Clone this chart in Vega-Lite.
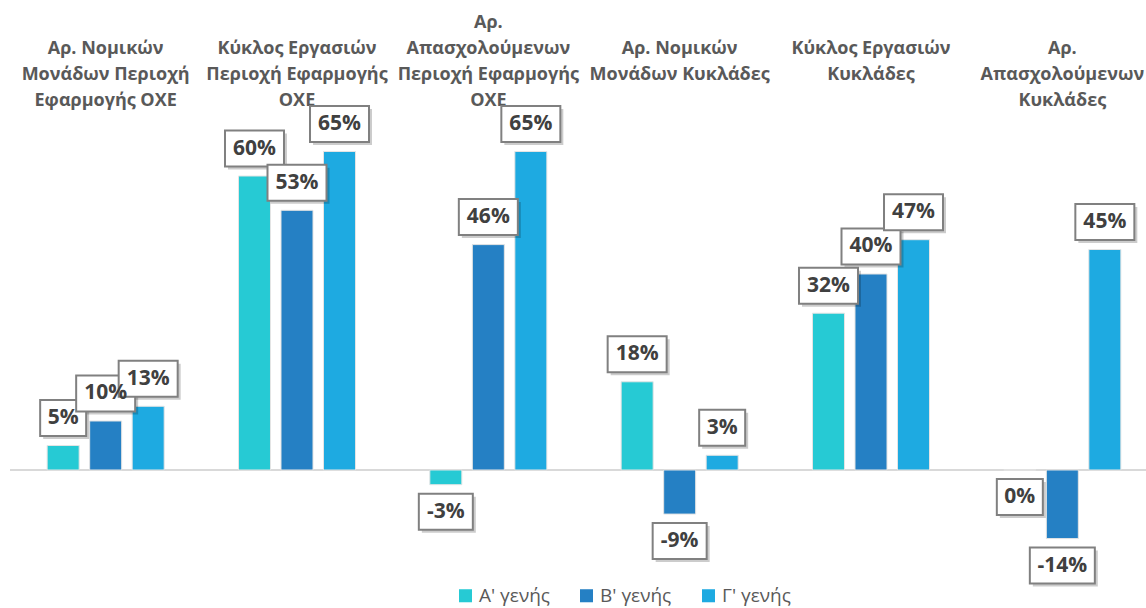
{
  "$schema": "https://vega.github.io/schema/vega-lite/v6.json",
  "width": 1136,
  "height": 445,
  "autosize": {"type": "none"},
  "padding": {"left": 10, "top": 115, "right": 0, "bottom": 48},
  "background": "white",
  "config": {"view": {"stroke": null}, "font": "Open Sans"},
  "datasets": {
    "d": [
      {"cat": "Αρ. Νομικών|Μονάδων Περιοχή|Εφαρμογής ΟΧΕ", "g": "Α' γενής", "v": 5},
      {"cat": "Αρ. Νομικών|Μονάδων Περιοχή|Εφαρμογής ΟΧΕ", "g": "Β' γενής", "v": 10},
      {"cat": "Αρ. Νομικών|Μονάδων Περιοχή|Εφαρμογής ΟΧΕ", "g": "Γ' γενής", "v": 13},
      {"cat": "Κύκλος Εργασιών|Περιοχή Εφαρμογής|ΟΧΕ", "g": "Α' γενής", "v": 60},
      {"cat": "Κύκλος Εργασιών|Περιοχή Εφαρμογής|ΟΧΕ", "g": "Β' γενής", "v": 53},
      {"cat": "Κύκλος Εργασιών|Περιοχή Εφαρμογής|ΟΧΕ", "g": "Γ' γενής", "v": 65},
      {"cat": "Αρ.|Απασχολούμενων|Περιοχή Εφαρμογής|ΟΧΕ", "g": "Α' γενής", "v": -3},
      {"cat": "Αρ.|Απασχολούμενων|Περιοχή Εφαρμογής|ΟΧΕ", "g": "Β' γενής", "v": 46},
      {"cat": "Αρ.|Απασχολούμενων|Περιοχή Εφαρμογής|ΟΧΕ", "g": "Γ' γενής", "v": 65},
      {"cat": "Αρ. Νομικών|Μονάδων Κυκλάδες", "g": "Α' γενής", "v": 18},
      {"cat": "Αρ. Νομικών|Μονάδων Κυκλάδες", "g": "Β' γενής", "v": -9},
      {"cat": "Αρ. Νομικών|Μονάδων Κυκλάδες", "g": "Γ' γενής", "v": 3},
      {"cat": "Κύκλος Εργασιών|Κυκλάδες", "g": "Α' γενής", "v": 32},
      {"cat": "Κύκλος Εργασιών|Κυκλάδες", "g": "Β' γενής", "v": 40},
      {"cat": "Κύκλος Εργασιών|Κυκλάδες", "g": "Γ' γενής", "v": 47},
      {"cat": "Αρ.|Απασχολούμενων|Κυκλάδες", "g": "Α' γενής", "v": 0},
      {"cat": "Αρ.|Απασχολούμενων|Κυκλάδες", "g": "Β' γενής", "v": -14},
      {"cat": "Αρ.|Απασχολούμενων|Κυκλάδες", "g": "Γ' γενής", "v": 45}
    ]
  },
  "layer": [
    {
      "data": {"values": [{"z": 0}]},
      "mark": {"type": "rule", "color": "#d9d9d9", "strokeWidth": 2},
      "encoding": {
        "y": {"field": "z", "type": "quantitative", "scale": {"domain": [-18.37, 72.45], "nice": false, "zero": false}, "axis": null}
      }
    },
    {
      "data": {"name": "d"},
      "mark": {"type": "bar", "stroke": "#e4e4e4", "strokeWidth": 1},
      "encoding": {
        "x": {
          "field": "cat", "type": "nominal", "sort": null,
          "scale": {"paddingInner": 0, "paddingOuter": 0, "range": [0, 1148]},
          "axis": {
            "orient": "top", "title": null, "domain": false, "ticks": false, "grid": false,
            "labelAngle": 0,
            "labelExpr": "split(slice('|||', 0, 4 - length(split(datum.label, '|'))) + datum.label, '|')",
            "labelFont": "Open Sans", "labelFontSize": 18, "labelFontWeight": "bold",
            "labelColor": "#595959", "labelLineHeight": 26.3, "labelBaseline": "alphabetic",
            "labelPadding": 88, "labelLimit": 0
          }
        },
        "xOffset": {"field": "g", "type": "nominal", "scale": {"paddingInner": 0.247, "paddingOuter": 0.874}},
        "y": {"field": "v", "type": "quantitative", "axis": null},
        "color": {
          "field": "g", "type": "nominal",
          "scale": {"domain": ["Α' γενής", "Β' γενής", "Γ' γενής"], "range": ["#26CAD4", "#2580C4", "#1EAAE1"]},
          "legend": {
            "title": null, "orient": "none", "legendX": 446, "legendY": 471, "direction": "horizontal",
            "symbolType": "square", "symbolSize": 170, "symbolStrokeWidth": 0,
            "labelFont": "Open Sans", "labelFontSize": 19, "labelColor": "#595959", "labelOffset": 4, "columnPadding": 27
          }
        }
      }
    },
    {
      "data": {"name": "d"},
      "transform": [{"calculate": "datum.v + '%'", "as": "label"}, {"filter": "datum.v > 0"}],
      "mark": {"type": "point", "filled": true, "fill": "#000000", "opacity": 0.2, "strokeWidth": 0},
      "encoding": {
        "x": {"field": "cat", "type": "nominal", "sort": null},
        "xOffset": {"field": "g", "type": "nominal"},
        "y": {"field": "v", "type": "quantitative", "axis": null},
        "yOffset": {"value": -27.5},
        "shape": {"condition": [{"test": "length(datum.label) <= 2", "value": "M-0.870,-0.653H1.130V0.913H-0.870Z"}, {"test": "length(datum.label) >= 4", "value": "M-0.908,-0.462H1.092V0.646H-0.908Z"}, {"test": "datum.v < 0", "value": "M-0.889,-0.556H1.111V0.778H-0.889Z"}], "value": "M-0.898,-0.508H1.102V0.712H-0.898Z"},
        "size": {"condition": [{"test": "length(datum.label) <= 2", "value": 2116}, {"test": "length(datum.label) >= 4", "value": 4225}, {"test": "datum.v < 0", "value": 2916}], "value": 3481}
      }
    },
    {
      "data": {"name": "d"},
      "transform": [{"calculate": "datum.v + '%'", "as": "label"}, {"filter": "datum.v > 0"}],
      "mark": {"type": "point", "filled": true, "fill": "#ffffff", "stroke": "#808080", "strokeWidth": 2, "opacity": 1},
      "encoding": {
        "x": {"field": "cat", "type": "nominal", "sort": null},
        "xOffset": {"field": "g", "type": "nominal"},
        "y": {"field": "v", "type": "quantitative", "axis": null},
        "yOffset": {"value": -27.5},
        "shape": {"condition": [{"test": "length(datum.label) <= 2", "value": "M-1,-0.783H1V0.783H-1Z"}, {"test": "length(datum.label) >= 4", "value": "M-1,-0.554H1V0.554H-1Z"}, {"test": "datum.v < 0", "value": "M-1,-0.667H1V0.667H-1Z"}], "value": "M-1,-0.610H1V0.610H-1Z"},
        "size": {"condition": [{"test": "length(datum.label) <= 2", "value": 2116}, {"test": "length(datum.label) >= 4", "value": 4225}, {"test": "datum.v < 0", "value": 2916}], "value": 3481}
      }
    },
    {
      "data": {"name": "d"},
      "transform": [{"calculate": "datum.v + '%'", "as": "label"}, {"filter": "datum.v > 0"}],
      "mark": {"type": "text", "font": "Open Sans", "fontSize": 21, "fontWeight": "bold", "color": "#404040", "baseline": "middle", "align": "center"},
      "encoding": {
        "x": {"field": "cat", "type": "nominal", "sort": null},
        "xOffset": {"field": "g", "type": "nominal"},
        "y": {"field": "v", "type": "quantitative", "axis": null},
        "yOffset": {"value": -27.5},
        "text": {"field": "label"}
      }
    },
    {
      "data": {"name": "d"},
      "transform": [{"calculate": "datum.v + '%'", "as": "label"}, {"filter": "datum.v <= 0"}],
      "mark": {"type": "point", "filled": true, "fill": "#000000", "opacity": 0.2, "strokeWidth": 0},
      "encoding": {
        "x": {"field": "cat", "type": "nominal", "sort": null},
        "xOffset": {"field": "g", "type": "nominal"},
        "y": {"field": "v", "type": "quantitative", "axis": null},
        "yOffset": {"value": 27},
        "shape": {"condition": [{"test": "length(datum.label) <= 2", "value": "M-0.870,-0.653H1.130V0.913H-0.870Z"}, {"test": "length(datum.label) >= 4", "value": "M-0.908,-0.462H1.092V0.646H-0.908Z"}, {"test": "datum.v < 0", "value": "M-0.889,-0.556H1.111V0.778H-0.889Z"}], "value": "M-0.898,-0.508H1.102V0.712H-0.898Z"},
        "size": {"condition": [{"test": "length(datum.label) <= 2", "value": 2116}, {"test": "length(datum.label) >= 4", "value": 4225}, {"test": "datum.v < 0", "value": 2916}], "value": 3481}
      }
    },
    {
      "data": {"name": "d"},
      "transform": [{"calculate": "datum.v + '%'", "as": "label"}, {"filter": "datum.v <= 0"}],
      "mark": {"type": "point", "filled": true, "fill": "#ffffff", "stroke": "#808080", "strokeWidth": 2, "opacity": 1},
      "encoding": {
        "x": {"field": "cat", "type": "nominal", "sort": null},
        "xOffset": {"field": "g", "type": "nominal"},
        "y": {"field": "v", "type": "quantitative", "axis": null},
        "yOffset": {"value": 27},
        "shape": {"condition": [{"test": "length(datum.label) <= 2", "value": "M-1,-0.783H1V0.783H-1Z"}, {"test": "length(datum.label) >= 4", "value": "M-1,-0.554H1V0.554H-1Z"}, {"test": "datum.v < 0", "value": "M-1,-0.667H1V0.667H-1Z"}], "value": "M-1,-0.610H1V0.610H-1Z"},
        "size": {"condition": [{"test": "length(datum.label) <= 2", "value": 2116}, {"test": "length(datum.label) >= 4", "value": 4225}, {"test": "datum.v < 0", "value": 2916}], "value": 3481}
      }
    },
    {
      "data": {"name": "d"},
      "transform": [{"calculate": "datum.v + '%'", "as": "label"}, {"filter": "datum.v <= 0"}],
      "mark": {"type": "text", "font": "Open Sans", "fontSize": 21, "fontWeight": "bold", "color": "#404040", "baseline": "middle", "align": "center"},
      "encoding": {
        "x": {"field": "cat", "type": "nominal", "sort": null},
        "xOffset": {"field": "g", "type": "nominal"},
        "y": {"field": "v", "type": "quantitative", "axis": null},
        "yOffset": {"value": 27},
        "text": {"field": "label"}
      }
    }
  ]
}
